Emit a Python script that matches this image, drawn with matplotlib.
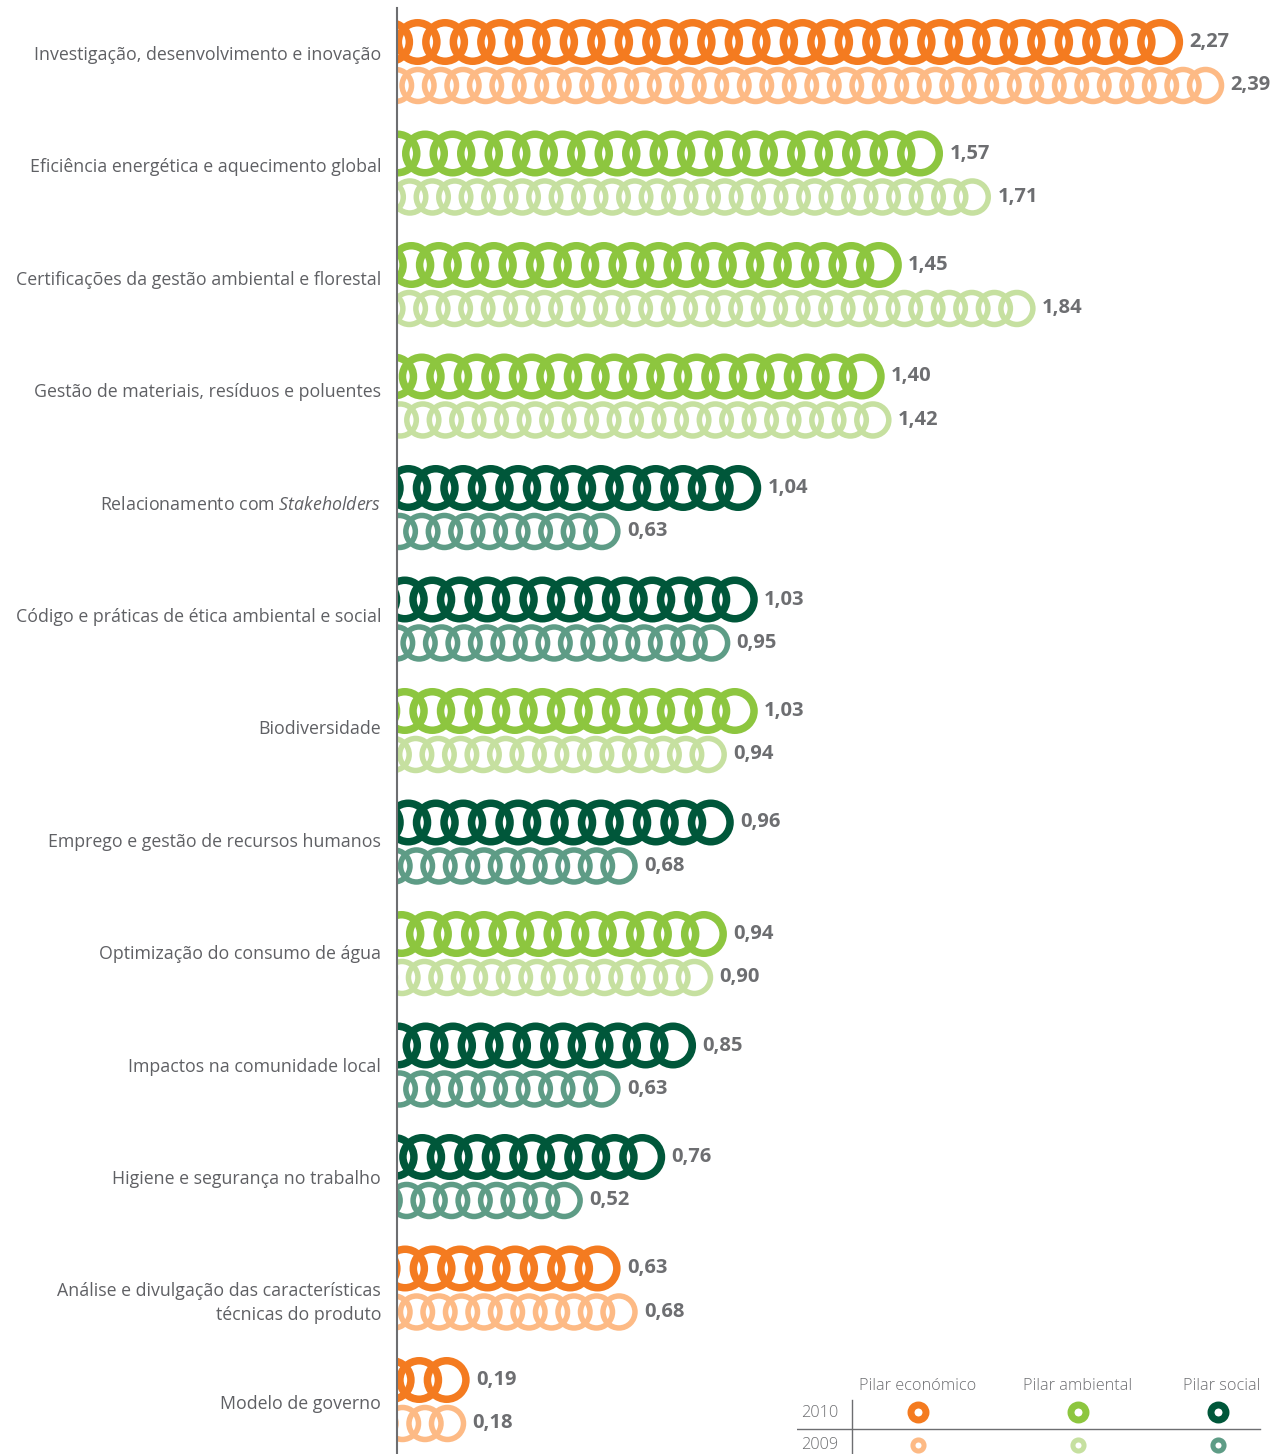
import numpy as np
import matplotlib
matplotlib.use('Agg')
import matplotlib.pyplot as plt

plt.rcParams['font.family'] = ['Open Sans', 'DejaVu Sans']
plt.rcParams['mathtext.fontset'] = 'custom'
plt.rcParams['mathtext.rm'] = 'Open Sans'
plt.rcParams['mathtext.it'] = 'Open Sans:italic'

categories = [
    'Investigação, desenvolvimento e inovação',
    'Eficiência energética e aquecimento global',
    'Certificações da gestão ambiental e florestal',
    'Gestão de materiais, resíduos e poluentes',
    r'Relacionamento com $\mathit{Stakeholders}$',
    'Código e práticas de ética ambiental e social',
    'Biodiversidade',
    'Emprego e gestão de recursos humanos',
    'Optimização do consumo de água',
    'Impactos na comunidade local',
    'Higiene e segurança no trabalho',
    'Análise e divulgação das características\ntécnicas do produto',
    'Modelo de governo',
]
pillars = ['eco', 'amb', 'amb', 'amb', 'soc', 'soc', 'amb', 'soc', 'amb', 'soc', 'soc', 'eco', 'eco']
values_2010 = [2.27, 1.57, 1.45, 1.40, 1.04, 1.03, 1.03, 0.96, 0.94, 0.85, 0.76, 0.63, 0.19]
values_2009 = [2.39, 1.71, 1.84, 1.42, 0.63, 0.95, 0.94, 0.68, 0.90, 0.63, 0.52, 0.68, 0.18]

colors_2010 = {'eco': '#f47b20', 'amb': '#8dc63f', 'soc': '#00573a'}
colors_2009 = {'eco': '#fdba85', 'amb': '#c6e0a0', 'soc': '#5e9c86'}
legend_names = ['Pilar económico', 'Pilar ambiental', 'Pilar social']
legend_keys = ['eco', 'amb', 'soc']

GREY = '#6d6e71'
LABEL_GREY = '#5f6064'

W, H = 1284, 1454
PX = 343.0           # pixels per unit
X0 = -7.5 / PX       # axis line sits slightly left of zero
ROW = 111.5          # pixels between groups

fig = plt.figure(figsize=(W / 100, H / 100), dpi=100)
ax = fig.add_axes([397 / W, 0, (W - 397) / W, 1])
xmax = X0 + (W - 397) / PX
ytop = -42 / ROW
ax.set_xlim(X0, xmax)
ax.set_ylim(ytop + H / ROW, ytop)


def ring_row(v, y, color, outer_px, stroke_px, step_px):
    r = outer_px / 2 / PX
    centers = np.arange(v - r, X0 - r, -step_px / PX)
    d_pt = (outer_px - stroke_px) * 0.72
    ax.scatter(centers, np.full(len(centers), y), s=d_pt ** 2, marker='o',
               facecolors='none', edgecolors=color, linewidths=stroke_px * 0.72)


off_2009 = 0.39
for i, (p, a, b) in enumerate(zip(pillars, values_2010, values_2009)):
    ring_row(a, i, colors_2010[p], 46, 7.5, 27.5)
    ring_row(b, i + off_2009, colors_2009[p], 37.5, 5.5, 22.5)
    for v, y in ((a, i), (b, i + off_2009)):
        ax.annotate(f'{v:.2f}'.replace('.', ','), (v, y), xytext=(4.5, 0),
                    textcoords='offset points', ha='left', va='center',
                    fontsize=14.5, fontweight='bold', color=GREY)
    ly = i * 1.008 + (0.22 if '\n' in categories[i] else 0.117)
    ax.text(X0 - 16 / PX, ly, categories[i], ha='right', va='center',
            fontsize=12.8, color=LABEL_GREY, linespacing=1.4)

for s in ['top', 'right', 'bottom']:
    ax.spines[s].set_visible(False)
ax.spines['left'].set_color(GREY)
ax.spines['left'].set_linewidth(1.5)
ax.spines['left'].set_bounds(ytop + 8 / ROW, ytop + H / ROW)
ax.set_xticks([])
ax.set_yticks([])

# legend table, bottom right
lg = fig.add_axes([797 / W, 0, (W - 797) / W, 84 / H])
lg.set_xlim(0, W - 797)
lg.set_ylim(84, 0)
lg.axis('off')
cols = [121, 281, 421]
heads = [121, 281, 425]
for name, hx in zip(legend_names, heads):
    lg.text(hx, 16, name, ha='center', va='center', fontsize=11.7,
            fontweight='light', color=GREY)
lg.text(41, 43, '2010', ha='right', va='center', fontsize=11.7, fontweight='light', color=GREY)
lg.text(41, 75, '2009', ha='right', va='center', fontsize=11.7, fontweight='light', color=GREY)
lg.plot([55, 55], [30, 84], color=GREY, lw=1)
lg.plot([0, 463], [59, 59], color=GREY, lw=1)
for k, cx in zip(legend_keys, cols):
    lg.plot(cx, 42, 'o', ms=10.8, mfc='none', mec=colors_2010[k], mew=5)
    lg.plot(cx, 75, 'o', ms=8, mfc='none', mec=colors_2009[k], mew=3.6)

fig.savefig('out.png', dpi=100, facecolor='white')
